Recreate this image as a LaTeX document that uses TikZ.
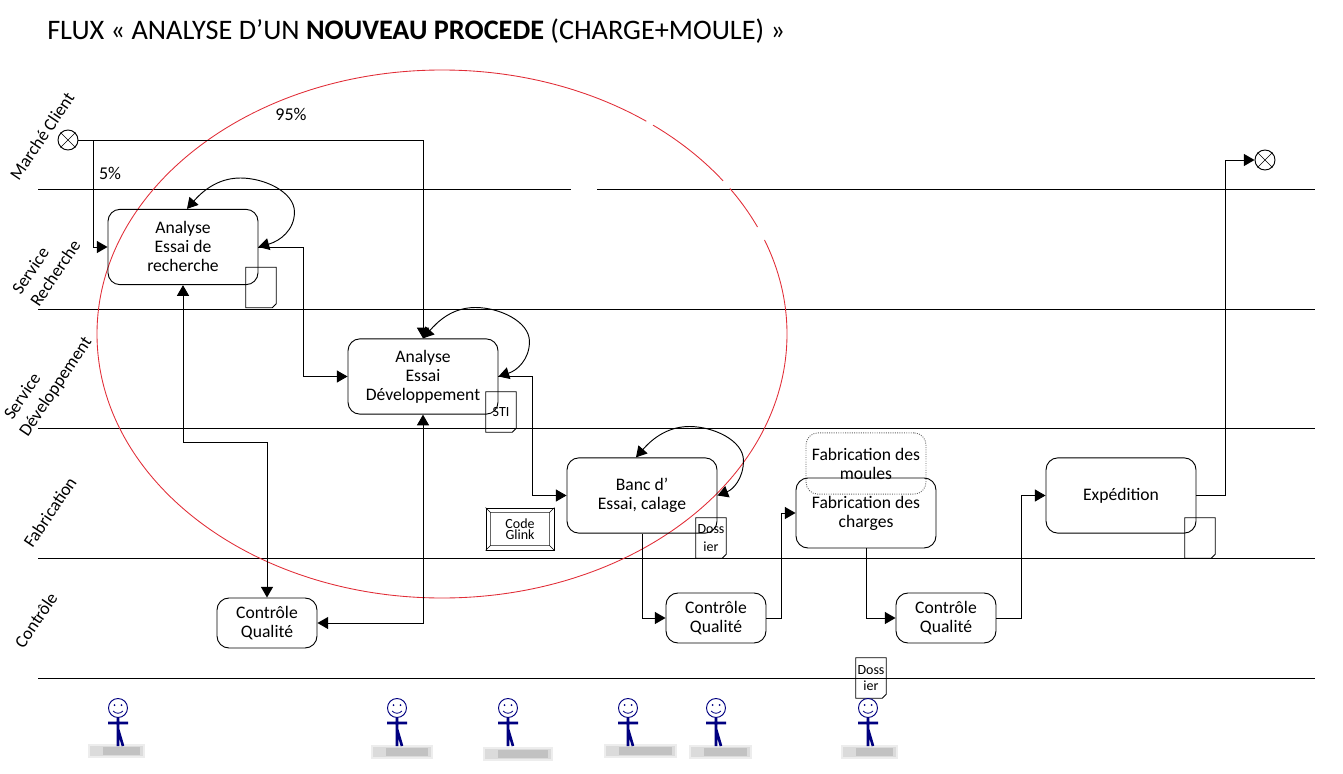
\documentclass[tikz,border=0pt]{standalone}
\usepackage{fontspec}
\setmainfont{Carlito}
\usetikzlibrary{arrows.meta,calc}
\definecolor{acteur}{RGB}{0,0,128}
\definecolor{cercle}{RGB}{225,45,55}
\tikzset{
  ligne/.style={line width=.7pt},
  boite/.style={draw, ligne, rounded corners=9pt, align=center, inner sep=0pt,
    minimum width=112.5pt, minimum height=56.5pt, font=\fontsize{13.2}{14.25}\selectfont},
  petite/.style={boite, minimum width=75pt, minimum height=37.5pt},
  note/.style={inner sep=0pt, align=center, minimum width=22.5pt, minimum height=30pt,
    font=\fontsize{10.5}{12.6}\selectfont},
  couloir/.style={rotate=56, align=left, font=\fontsize{13.3}{16.5}\selectfont},
  taux/.style={font=\fontsize{13.5}{15}\selectfont},
  fleche/.style={ligne, -{Triangle[length=8pt,width=9pt]}},
  double fleche/.style={ligne, {Triangle[length=8pt,width=9pt]}-{Triangle[length=8pt,width=9pt]}},
  rond/.style={draw, ligne, circle, minimum size=15pt, inner sep=0pt},
}
\begin{document}
\begin{tikzpicture}[x=.75pt,y=-.75pt]
\useasboundingbox (0,0) rectangle (1343,774);
\node[anchor=west, inner sep=0pt, font=\fontsize{21.2}{25}\selectfont] (titre) at (47,31) {FLUX « ANALYSE D’UN \textbf{NOUVEAU PROCEDE} (CHARGE+MOULE) »};
% couloirs
\draw[ligne] (38,189) -- (571,189) (597,189) -- (1315,189);
\foreach \y in {309,428,558,678} \draw[ligne] (38,\y) -- (1315,\y);
\node[couloir] (marche) at (42,136) {Marché Client};
\node[couloir] (srech) at (46,267) {Service\\Recherche};
\node[couloir] (sdev) at (47,381) {\hspace*{4pt}Service\\Développement};
\node[couloir] (fab) at (50,512) {Fabrication};
\node[couloir] (ctrl) at (36,620) {Contrôle};
% ellipse
\draw[cercle, line width=.65pt] (442,334) ellipse [x radius=345, y radius=264];
\draw[white, line width=2.5pt] (647,120.5) -- (653,125) (723,181) -- (730,188) (758,227) -- (764,240);
% boites
\node[boite] (recherche) at (183,247) {\raisebox{1.2pt}{Analyse}\\\raisebox{1.2pt}{Essai de}\\\raisebox{1.2pt}{recherche}};
\node[boite] (dev) at (423,376.5) {Analyse\\Essai\\Développement};
\node[boite] (banc) at (642,495.5) {Banc d’\\Essai, calage};
\node[boite, minimum width=105pt, minimum height=52.5pt] (charges) at (866,513) {\raisebox{1.5pt}{Fabrication des}\\\raisebox{1.5pt}{charges}};
\node[boite, draw=black!60, densely dotted, minimum width=90pt, minimum height=46pt] (moules) at (866,463.5) {Fabrication des\\moules};
\node[boite] (expedition) at (1121,495.5) {Expédition};
\node[petite] (qualite1) at (267,623) {Contrôle\\Qualité};
\node[petite] (qualite2) at (716,618) {Contrôle\\Qualité};
\node[petite] (qualite3) at (946,618) {Contrôle\\Qualité};
% documents
\node[note] (doc1) at (261,287.5) {};
\node[note] (sti) at (501,412) {STI};
\node[note, font=\fontsize{10.5}{13.5}\selectfont] (doc2) at (711,538) {Doss\\ier};
\node[note] (doc3) at (1200,538) {};
\node[note, font=\fontsize{10.5}{12}\selectfont] (doc4) at (871,678) {Doss\\ier};
\foreach \n in {doc1,sti,doc2,doc3,doc4}
  \draw[ligne] (\n.south west) -- (\n.north west) -- (\n.north east) -- ($(\n.south east)+(0,-4)$)
    -- ($(\n.south east)+(-4,0)$) -- cycle;
% code glink
\node[draw, ligne, minimum width=51pt, minimum height=31.5pt, inner sep=0pt, align=center,
  font=\fontsize{10.5}{8.5}\selectfont] (glink) at (520,529) {Code\\Glink};
\draw[black!60, line width=1.2pt] ($(glink.north west)+(5,5)$) rectangle ($(glink.south east)+(-5,-5)$);
\foreach \a/\dx/\dy in {north west/5/5,north east/-5/5,south west/5/-5,south east/-5/-5}
  \draw[line width=.5pt] (glink.\a) -- ++(\dx,\dy);
% depart et fin
\node[rond] (depart) at (68,140) {};
\node[rond] (fin) at (1265,160) {};
\foreach \n in {depart,fin}
  \draw[line width=.5pt] (\n.45) -- (\n.225) (\n.135) -- (\n.315);
% liaisons
\coordinate (branche) at (93,140);
\draw[fleche] (depart.east) -| (dev.north);
\draw[fleche] (branche) |- (recherche.west);
\node[taux] (p95) at (291,114) {95\%};
\node[taux] (p5) at (110,173) {5\%};
\draw[fleche] (recherche.east) -- ++(45,0) |- (dev.west);
\draw[double fleche] (recherche.south) -- ++(0,157) -| (qualite1.north);
\draw[double fleche] (dev.south) |- (qualite1.east);
\draw[fleche] (dev.east) -- ++(34,0) |- (banc.west);
\draw[fleche] (banc.south) |- (qualite2.west);
\draw[fleche] (qualite2.east) -- ++(15,0) |- (charges.west);
\draw[fleche] (charges.south) |- (qualite3.west);
\draw[fleche] (qualite3.east) -- ++(25,0) |- (expedition.west);
\draw[fleche] (expedition.east) -- ++(29,0) |- (fin.west);
% boucles
\foreach \b/\dx/\nx in {recherche/36/4,dev/31/0,banc/26/-6}
  \draw[double fleche] (\b.east) .. controls +(.6*\dx,-6) and +(0,18) .. ++(\dx,-35)
    .. controls +(0,-20) and +(24,0) .. ++(-54,-34) .. controls +(-24,0) and +(14,-16) .. ($(\b.north)+(\nx,0)$);
% acteurs
\foreach \x/\a/\b/\c in {118/88/145/751,397/371/433/752,508/483/553/754,628/604/677/751,716/689/752/752,868/841/898/752}{
  \fill[black!7] (\a,\c-7) rectangle (\b,\c+7);
  \fill[black!14] (\a+2,\c-5) rectangle (\b-2,\c+5);
  \fill[black!24] (\a+15,\c-4) rectangle (\b-5,\c+4);
  \draw[acteur, line width=.7pt] (\x,708) circle [radius=9.5];
  \fill[acteur] (\x-3.5,705) circle [radius=1] (\x+3.5,705) circle [radius=1];
  \draw[acteur, line width=.6pt] (\x-5,711) .. controls (\x-2,714) and (\x+2,714) .. (\x+5,711);
  \draw[acteur, line width=2pt] (\x,718) -- (\x,746) (\x-10,723) -- (\x+10,723) (\x,729) -- (\x+5,746);
}
\end{tikzpicture}
\end{document}
